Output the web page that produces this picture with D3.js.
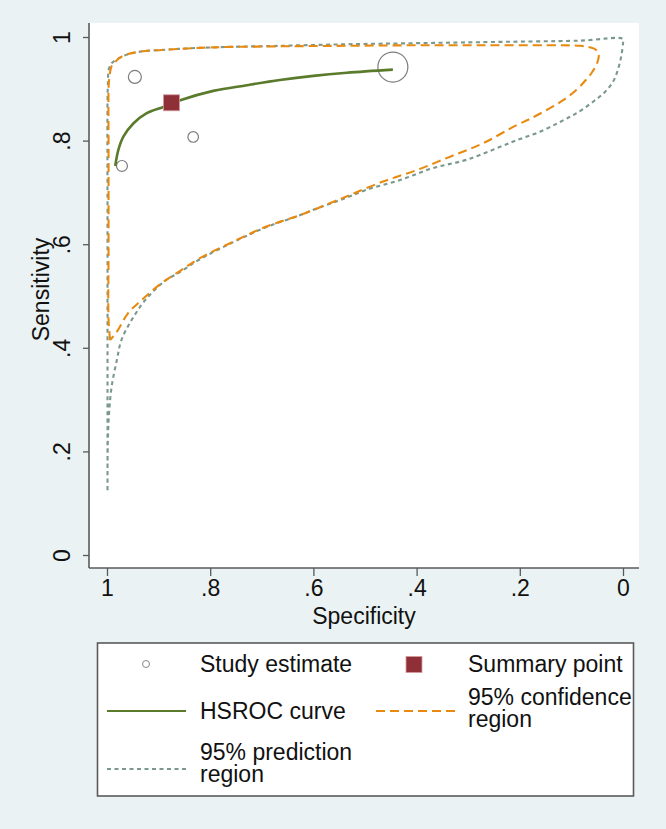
<!DOCTYPE html>
<html>
<head>
<meta charset="utf-8">
<script src="https://cdn.jsdelivr.net/npm/d3@7"></script>
<style>
  html, body { margin: 0; padding: 0; background: #eaf2f3; }
  svg { display: block; font-family: "Liberation Sans", Arial, Helvetica, sans-serif; }
</style>
</head>
<body>
<div id="chart"></div>
<script>
// ---------- data ----------
const specTicks = [1, 0.8, 0.6, 0.4, 0.2, 0];
const specTickLabels = ["1", ".8", ".6", ".4", ".2", "0"];
const sensTicks = [0, 0.2, 0.4, 0.6, 0.8, 1];
const sensTickLabels = ["0", ".2", ".4", ".6", ".8", "1"];

// study estimates
const studySpec = [0.946, 0.833, 0.971, 0.446];
const studySens = [0.923, 0.807, 0.751, 0.942];
const studyWeight = [42, 28, 30, 225];

// summary point
const summarySpec = [0.875];
const summarySens = [0.873];

// HSROC curve
const hsrocSpec = [0.984, 0.978, 0.968, 0.949, 0.923, 0.891, 0.858, 0.794, 0.729, 0.665, 0.600, 0.535, 0.446];
const hsrocSens = [0.751, 0.782, 0.808, 0.833, 0.853, 0.865, 0.878, 0.896, 0.907, 0.917, 0.925, 0.931, 0.937];

// 95% confidence region
const confSpec = [0.994, 0.997, 0.997, 0.997, 0.997, 0.996, 0.994, 0.991, 0.984, 0.975, 0.959, 0.926, 0.894, 0.862,
  0.795, 0.665, 0.535, 0.407, 0.277, 0.148, 0.083, 0.064, 0.052, 0.047, 0.050, 0.060, 0.072, 0.090, 0.116, 0.148,
  0.180, 0.206, 0.271, 0.335, 0.400, 0.465, 0.529, 0.561, 0.626, 0.691, 0.755, 0.820, 0.859, 0.894, 0.933, 0.959,
  0.981, 0.994];
const confSens = [0.415, 0.454, 0.589, 0.782, 0.898, 0.917, 0.932, 0.944, 0.952, 0.960, 0.967, 0.973, 0.975, 0.977,
  0.980, 0.982, 0.983, 0.984, 0.984, 0.984, 0.983, 0.980, 0.975, 0.965, 0.950, 0.932, 0.917, 0.898, 0.878, 0.859,
  0.842, 0.830, 0.795, 0.769, 0.743, 0.721, 0.695, 0.682, 0.656, 0.634, 0.605, 0.573, 0.548, 0.525, 0.492, 0.467,
  0.431, 0.415];

// 95% prediction region
const predSpec = [0.999, 0.999, 0.999, 0.999, 0.999, 0.998, 0.997, 0.992, 0.984, 0.975, 0.959, 0.926, 0.894, 0.862,
  0.795, 0.665, 0.535, 0.407, 0.277, 0.083, 0.000, 0.000, 0.003, 0.009, 0.019, 0.035, 0.058, 0.090, 0.122, 0.161,
  0.200, 0.238, 0.303, 0.368, 0.432, 0.497, 0.548, 0.594, 0.626, 0.691, 0.755, 0.820, 0.859, 0.888, 0.926, 0.952,
  0.972, 0.981, 0.991, 0.996, 0.9986, 0.999];
const predSens = [0.125, 0.299, 0.492, 0.685, 0.878, 0.917, 0.936, 0.948, 0.955, 0.960, 0.967, 0.973, 0.975, 0.977,
  0.980, 0.983, 0.986, 0.988, 0.990, 0.993, 0.996, 0.988, 0.965, 0.940, 0.914, 0.894, 0.875, 0.853, 0.836, 0.817,
  0.803, 0.788, 0.763, 0.747, 0.724, 0.705, 0.685, 0.669, 0.656, 0.633, 0.604, 0.571, 0.546, 0.529, 0.492, 0.454,
  0.415, 0.376, 0.325, 0.274, 0.209, 0.125];

const xTitle = "Specificity";
const yTitle = "Sensitivity";
const legendLabels = ["Study estimate", "Summary point", "HSROC curve", ["95% confidence", "region"], ["95% prediction", "region"]];

// ---------- styles ----------
const W = 666, H = 829;
const FONT = 23;
const C_BG = "#eaf2f3";
const C_AXIS = "#5a5a5a";
const C_GREEN = "#5a7a2c";
const C_ORANGE = "#e88a10";
const C_GREY = "#7b988e";
const C_SQUARE = "#8f3039";
const C_CIRCLE = "#7d7d7d";

const svg = d3.select("#chart").append("svg").attr("width", W).attr("height", H);
svg.append("rect").attr("width", W).attr("height", H).attr("fill", C_BG);

const x = d3.scaleLinear().domain([1, 0]).range([107, 623]);
const y = d3.scaleLinear().domain([0, 1]).range([555, 37]);

// plot region
const px0 = 89, px1 = 639, py0 = 23, py1 = 568;
svg.append("rect").attr("x", px0).attr("y", py0).attr("width", px1 - px0).attr("height", py1 - py0).attr("fill", "#ffffff");

// axes
const xAxis = d3.axisBottom(x).tickValues(specTicks).tickFormat((d, i) => specTickLabels[i]).tickSize(8).tickSizeOuter(0).tickPadding(4);
const gx = svg.append("g").attr("transform", `translate(0,${py1})`).call(xAxis);
gx.select(".domain").remove();
gx.selectAll(".tick line").attr("stroke", C_AXIS).attr("stroke-width", 1.3);
gx.selectAll(".tick text").attr("font-size", FONT).attr("fill", "#111").attr("font-family", "Liberation Sans, Arial, sans-serif");
gx.append("line").attr("x1", px0).attr("x2", px1).attr("y1", 0).attr("y2", 0).attr("stroke", C_AXIS).attr("stroke-width", 1.6);

const yAxis = d3.axisLeft(y).tickValues(sensTicks).tickFormat((d, i) => sensTickLabels[i]).tickSize(6).tickSizeOuter(0);
const gy = svg.append("g").attr("transform", `translate(${px0},0)`).call(yAxis);
gy.select(".domain").remove();
gy.selectAll(".tick line").attr("stroke", C_AXIS).attr("stroke-width", 1.3);
gy.selectAll(".tick text")
  .attr("font-size", FONT).attr("fill", "#111").attr("font-family", "Liberation Sans, Arial, sans-serif")
  .attr("x", null).attr("dy", null)
  .attr("text-anchor", "middle")
  .attr("transform", "translate(-19,0) rotate(-90)");
gy.append("line").attr("x1", 0).attr("x2", 0).attr("y1", py0).attr("y2", py1).attr("stroke", C_AXIS).attr("stroke-width", 1.6);

svg.append("text").attr("x", (px0 + px1) / 2).attr("y", 624).attr("text-anchor", "middle")
  .attr("font-size", FONT).attr("fill", "#111").text(xTitle);
svg.append("text").attr("transform", `translate(49,${(py0 + py1) / 2 - 6}) rotate(-90)`).attr("text-anchor", "middle")
  .attr("font-size", FONT).attr("fill", "#111").text(yTitle);

// regions
const line = d3.line().x(d => x(d[0])).y(d => y(d[1])).curve(d3.curveCatmullRom.alpha(0.5));
const pred = predSpec.map((s, i) => [s, predSens[i]]);
const conf = confSpec.map((s, i) => [s, confSens[i]]);
const hsroc = hsrocSpec.map((s, i) => [s, hsrocSens[i]]);

svg.append("path").attr("d", line(pred)).attr("fill", "none").attr("stroke", C_GREY).attr("stroke-width", 2.1)
  .attr("stroke-dasharray", "4,3.5");
svg.append("path").attr("d", line(conf)).attr("fill", "none").attr("stroke", C_ORANGE).attr("stroke-width", 2.1)
  .attr("stroke-dasharray", "9,5");

// study circles
const r = d3.scaleSqrt().domain([0, d3.max(studyWeight)]).range([0, 15]);
svg.selectAll("circle.study").data(studySpec).join("circle").attr("class", "study")
  .attr("cx", (d) => x(d)).attr("cy", (d, i) => y(studySens[i])).attr("r", (d, i) => r(studyWeight[i]))
  .attr("fill", "none").attr("stroke", C_CIRCLE).attr("stroke-width", 1.2);

// HSROC
svg.append("path").attr("d", line(hsroc)).attr("fill", "none").attr("stroke", C_GREEN).attr("stroke-width", 2.6);

// summary point
const sq = 16;
svg.selectAll("rect.summary").data(summarySpec).join("rect").attr("class", "summary")
  .attr("x", d => x(d) - sq / 2).attr("y", (d, i) => y(summarySens[i]) - sq / 2)
  .attr("width", sq).attr("height", sq).attr("fill", C_SQUARE).attr("stroke", "#d49aa0").attr("stroke-width", 0.8);

// legend
const lg = svg.append("g");
lg.append("rect").attr("x", 97.5).attr("y", 643).attr("width", 536).attr("height", 153)
  .attr("fill", "#ffffff").attr("stroke", "#5a5a5a").attr("stroke-width", 1.6);
const t = (xx, yy, s) => lg.append("text").attr("x", xx).attr("y", yy).attr("font-size", FONT).attr("fill", "#111").text(s);

lg.append("circle").attr("cx", 146).attr("cy", 664).attr("r", 3.5).attr("fill", "none").attr("stroke", "#888").attr("stroke-width", 1);
t(200, 672, legendLabels[0]);
lg.append("rect").attr("x", 406).attr("y", 656.5).attr("width", 16).attr("height", 16).attr("fill", C_SQUARE).attr("stroke", "#d49aa0").attr("stroke-width", 0.8);
t(468, 672, legendLabels[1]);

lg.append("line").attr("x1", 107).attr("x2", 186).attr("y1", 711).attr("y2", 711).attr("stroke", C_GREEN).attr("stroke-width", 2.2);
t(200, 719, legendLabels[2]);
lg.append("line").attr("x1", 376).attr("x2", 456).attr("y1", 711).attr("y2", 711).attr("stroke", C_ORANGE).attr("stroke-width", 2).attr("stroke-dasharray", "9,5");
t(468, 705, legendLabels[3][0]);
t(468, 727, legendLabels[3][1]);

lg.append("line").attr("x1", 107).attr("x2", 186).attr("y1", 769).attr("y2", 769).attr("stroke", C_GREY).attr("stroke-width", 2).attr("stroke-dasharray", "4,3.5");
t(200, 760, legendLabels[4][0]);
t(200, 782, legendLabels[4][1]);
</script>
</body>
</html>
